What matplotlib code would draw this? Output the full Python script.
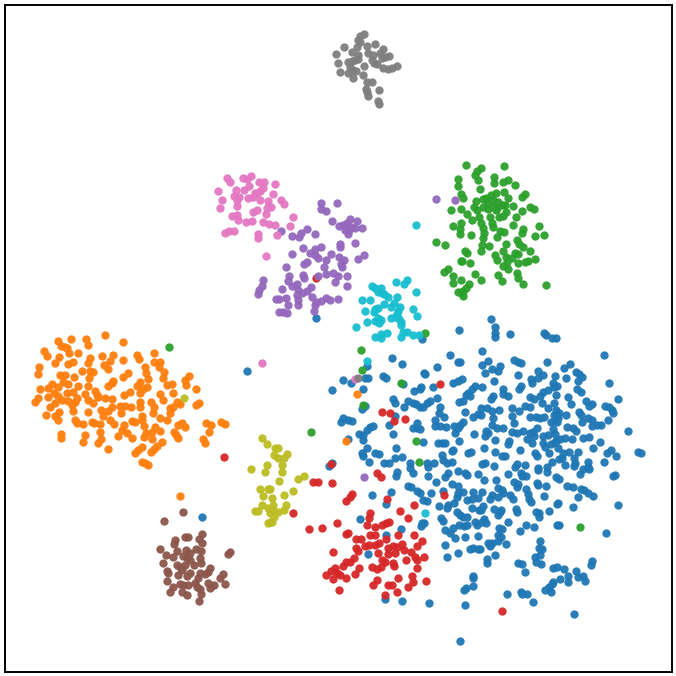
import matplotlib
matplotlib.use("Agg")
import matplotlib.pyplot as plt

ZOOM = 3.0
def crop(points, ox, oy):
    return [(ox + x / ZOOM, oy + y / ZOOM) for x, y in points]

blue_a = [(417,60),(389,136),(415,155),(420,155),(215,143),(246,163),(350,170),(312,190),(316,193),(140,168),(68,209),(93,220),(135,205),(145,205),(190,198),(197,204),(36,240),(129,237),(425,208),(415,212),(400,218),(339,232),(304,232),(300,238),(283,242),(248,222),(465,228),(455,238),(445,248),(437,255),(450,258),(428,272),(418,277),(351,263),(330,272),(322,280),(310,290),(300,292),(287,283),(278,280),(264,272),(251,290),(220,268),(224,280),(361,290),(358,308),(372,320),(436,305),(458,320),(475,312),(127,298),(135,287),(70,325),(63,337),(85,330),(96,333),(226,318),(207,345),(344,330),(344,348),(360,348),(377,350),(291,340),(278,355),(300,357),(290,355),(402,347),(420,345),(428,335),(415,355),(405,370),(219,372),(160,348),(150,352),(140,360),(130,375),(117,372),(128,390),(85,388),(461,372),(310,395),(355,398),(365,400),(375,400),(417,393),(142,413),(125,430),(130,438),(165,430),(177,432),(229,413),(400,420),(395,423),(445,428),(452,425),(366,435),(225,445),(245,442),(193,459),(208,458),(147,455),(370,450),(382,458),(397,457),(270,460),(270,475),(280,490),(322,460),(342,460),(323,470),(35,458),(28,468),(415,483),(435,490),(440,495),(473,493),(385,490),(375,500),(324,497),(232,487),(228,497),(306,88)]
blue_b = [(34,28),(45,50),(44,70),(44,82),(90,72),(192,68),(197,75),(215,85),(227,85),(373,136),(7,124),(103,150),(115,155),(123,160),(200,155),(25,152),(5,165),(59,167),(55,182),(35,178),(15,188),(270,163),(252,175),(288,187),(298,193),(305,200),(293,213),(173,183),(188,195),(175,203),(225,197),(115,195),(154,208),(155,220),(42,213),(258,205),(388,218),(220,220),(232,228),(222,232),(123,228),(118,238),(5,232),(70,238),(70,252),(85,258),(40,258),(33,268),(292,237),(302,247),(205,240),(190,245),(180,258),(227,255),(150,262),(162,267),(265,262),(185,280),(222,280),(415,267),(318,272),(335,282),(328,287),(272,283),(136,288),(150,290),(204,293),(97,295),(117,303),(3,293),(22,295),(35,303),(57,300),(375,287),(388,292),(395,300),(400,310),(298,307),(303,315),(228,300),(238,310),(258,315),(222,315),(232,318),(225,330),(235,325),(212,337),(230,335),(97,318),(150,322),(167,320),(180,325),(192,320),(3,315),(38,325),(102,340),(325,323),(335,330),(305,337),(384,330),(335,348),(350,346),(362,346),(35,345),(50,353),(70,355),(260,352),(278,355),(288,362),(220,357),(225,372),(95,365),(110,370),(128,362),(150,368),(160,365),(172,355),(162,378),(205,375),(190,378),(444,362),(18,362),(15,378),(25,370),(228,392),(240,388),(255,383),(277,388),(310,385),(328,380),(140,387),(155,400),(45,390),(87,393),(85,403),(190,400),(195,410),(212,403),(225,395),(360,397),(339,415),(12,415),(121,420),(44,425),(235,415),(165,430),(170,438),(207,428),(268,427),(250,430),(295,427),(245,445),(380,430),(392,420),(408,438),(473,425),(483,430),(65,438),(75,438),(238,448),(217,457),(283,445),(285,458),(325,455),(372,457),(15,458),(5,462),(43,467),(110,462),(105,470),(134,465),(256,465),(325,470),(175,475),(200,472),(310,478),(283,468),(328,478)]
blue_c = [(347,5),(395,12),(415,18),(265,18),(272,22),(290,33),(300,38),(332,40),(212,35),(156,46),(198,72),(370,33),(415,40),(428,37),(410,50),(403,68),(385,75),(382,85),(356,78),(460,35),(440,60),(455,58),(475,55),(455,85),(478,90),(310,60),(320,62),(412,95),(420,105),(430,110),(440,112),(362,115),(368,124),(119,117),(305,130),(312,128),(303,138),(243,147),(197,165),(375,150),(390,160),(400,145),(418,135),(433,138),(440,135),(465,125),(470,135),(405,173),(434,170),(473,167),(374,195),(413,218),(382,230),(450,208),(460,205),(475,207),(143,223),(459,287),(459,295),(460,317),(433,330),(437,325),(434,375),(196,356),(247,362),(327,370),(420,483)]
blue_d = [(84,13),(122,8),(127,18),(138,17),(175,0),(201,6),(12,30),(47,30),(102,37),(115,43),(110,52),(172,40),(175,45),(198,47),(227,20),(236,28),(300,13),(260,47),(278,52),(304,58),(312,60),(324,70),(338,77),(293,80),(400,18),(405,15),(55,55),(67,60),(68,70),(5,65),(35,75),(30,87),(55,82),(90,75),(100,87),(138,57),(145,72),(148,87),(152,97),(193,78),(233,100),(230,102),(414,104),(279,111),(207,123),(8,107),(3,120),(43,117),(62,120),(55,135),(60,125),(108,118),(110,127),(167,125),(178,128),(178,140),(12,147),(18,158),(5,155),(85,157),(138,165),(162,171),(120,182),(232,165),(237,166),(378,188),(58,175),(65,176),(55,195),(63,202),(55,213),(25,218),(35,218),(30,227),(78,222),(0,237),(44,254),(22,267),(20,280),(179,212),(177,234),(187,238),(180,254),(165,262),(168,275),(183,281),(115,280),(127,282),(136,305),(337,274),(333,284),(219,293),(232,290),(251,296),(289,304),(263,317),(294,320),(309,318),(314,333),(240,327),(264,337),(220,335),(216,342),(207,352),(194,360),(213,367),(80,373),(122,366),(125,373),(140,373),(158,397),(282,431)]
blue_strays = [(202,516.5),(246.5,371),(316.3,317.7)]

orange_main = [(241,30),(294,51),(139,43),(184,41),(100,47),(188,61),(108,62),(120,65),(127,68),(132,85),(160,84),(57,78),(66,94),(103,95),(232,92),(264,89),(337,90),(341,101),(386,85),(293,104),(195,100),(190,113),(255,108),(90,115),(145,110),(130,118),(388,110),(405,110),(402,125),(238,120),(250,132),(41,127),(39,146),(170,137),(195,137),(205,140),(360,125),(362,143),(105,150),(120,150),(148,155),(308,145),(295,155),(192,160),(190,182),(418,142),(415,160),(493,152),(480,165),(265,168),(250,183),(260,175),(370,163),(345,170),(335,183),(365,185),(355,192),(425,180),(440,176),(482,181),(45,191),(82,178),(115,172),(130,178),(158,183),(70,190),(100,185),(513,193),(315,200),(297,210),(345,205),(210,198),(405,208),(415,225),(445,205),(180,207),(215,210),(220,215),(30,232),(40,220),(70,215),(88,205),(100,212),(125,205),(145,200),(155,218),(90,235),(110,225),(130,228),(150,232),(140,240),(240,218),(262,222),(190,225),(205,235),(345,230),(345,245),(378,230),(387,245),(455,230),(465,237),(443,245),(435,250),(522,233),(512,240),(75,245),(145,257),(63,270),(103,262),(90,272),(100,285),(188,262),(228,255),(262,247),(250,258),(285,243),(300,243),(318,247),(287,265),(235,272),(385,265),(435,265),(405,280),(425,285),(150,285),(155,295),(173,297),(200,292),(207,295),(225,298),(255,285),(268,297),(320,287),(330,290),(350,272),(352,285),(357,302),(298,300),(290,315),(307,323),(322,340),(390,305),(405,318),(380,322),(362,325),(358,337),(380,343),(472,295),(480,307),(460,300),(448,320),(452,330),(460,340),(543,293),(557,300),(553,321),(587,292),(600,297),(535,342),(540,355),(107,328),(108,340),(180,330),(175,352),(224,320),(227,342),(218,355),(280,332),(410,350),(397,362),(388,372),(378,382),(352,367),(340,375),(330,385),(249,372),(350,410),(360,415),(370,420)]
orange_strays = [(180,495.7),(357,393.7),(345.7,441)]

green_main = [(139,31),(253,32),(182,40),(172,47),(165,60),(175,75),(115,71),(115,92),(222,67),(222,85),(265,75),(250,80),(285,90),(181,103),(253,110),(124,117),(128,128),(314,118),(307,127),(263,130),(227,115),(212,120),(198,130),(188,132),(168,137),(162,155),(172,165),(190,155),(205,145),(220,135),(235,140),(245,150),(222,155),(232,160),(255,150),(280,153),(205,163),(228,165),(330,157),(343,162),(92,166),(122,162),(142,178),(157,195),(178,185),(210,185),(258,170),(250,182),(237,186),(305,168),(287,187),(215,205),(218,215),(183,205),(188,220),(192,235),(188,248),(279,211),(100,214),(123,205),(121,222),(120,237),(153,240),(240,228),(252,231),(230,245),(308,222),(305,235),(356,212),(372,240),(345,243),(47,261),(75,269),(290,255),(297,267),(258,268),(310,275),(185,270),(207,274),(183,288),(135,287),(142,295),(250,288),(331,288),(285,295),(293,298),(224,300),(230,315),(258,305),(275,310),(260,320),(345,313),(325,317),(315,320),(295,325),(127,318),(122,317),(150,325),(250,333),(265,343),(83,342),(72,350),(166,358),(100,363),(122,374),(182,376),(100,385),(233,360),(245,377),(290,355),(293,370),(310,388),(377,390),(147,387),(138,400),(130,408),(115,412),(125,412),(128,423)]
green_strays = [(361,349.7),(425.3,333.3),(361.7,370.3),(401,383),(363.3,404.7),(416,441.3),(418.7,462),(579.7,527),(168.7,347.3),(311,431.7)]

red_main = [(36,8),(97,43),(90,52),(78,63),(200,57),(373,45),(283,74),(240,92),(263,113),(150,98),(148,115),(142,135),(165,140),(185,135),(197,130),(208,125),(52,128),(5,144),(85,158),(78,163),(150,165),(165,165),(235,165),(283,165),(108,177),(123,178),(135,197),(147,195),(165,195),(178,188),(197,178),(245,192),(305,182),(292,197),(108,205),(113,213),(40,217),(205,205),(220,197),(232,200),(253,210),(272,215),(203,222),(225,218),(174,220),(285,230),(313,230),(259,241),(290,240),(102,233),(90,245),(78,247),(68,258),(185,240),(195,245),(218,248),(222,258),(155,260),(170,268),(183,262),(117,265),(290,263),(45,265),(33,272),(18,284),(50,280),(60,285),(40,297),(78,293),(105,282),(277,288),(235,295),(172,300),(278,307),(265,320),(318,302),(160,315),(205,315),(217,316),(230,337),(196,344),(58,330)]
red_upper = [(360,221),(185,307),(210,309),(223,333),(254,328),(172,488),(183,500)]
red_strays = [(224,456.7),(293,512.7),(309,529),(313,481.7),(318,482),(331,464),(502,611),(316,278)]

purple_main = [(347,115),(395,115),(347,133),(363,139),(380,168),(401,183),(415,180),(434,163),(455,168),(425,175),(437,185),(450,190),(472,188),(428,207),(420,195),(433,195),(228,197),(307,192),(287,203),(283,215),(262,213),(331,208),(404,238),(404,245),(450,235),(295,248),(348,247),(330,253),(315,265),(330,270),(340,280),(260,267),(378,267),(478,270),(458,282),(403,275),(418,285),(408,297),(410,307),(363,285),(357,305),(305,292),(297,297),(244,305),(295,330),(297,338),(338,332),(363,327),(385,325),(398,333),(390,352),(426,333),(425,364),(252,333),(250,347),(262,362),(275,358),(175,346),(170,362),(163,375),(158,388),(232,373),(280,375),(275,390),(290,385),(305,378),(318,365),(322,395),(212,401),(222,401),(243,400),(248,420),(278,420),(280,405),(332,410),(348,408),(362,400),(374,406),(399,401),(330,420),(328,437),(222,441),(235,441),(246,444)]
purple_strays = [(436,199.3),(455.3,200),(364.3,476.7)]

brown_main = [(114,246),(57,274),(172,313),(120,320),(128,322),(162,328),(90,330),(87,341),(172,339),(45,356),(153,358),(167,362),(95,362),(122,360),(135,368),(255,365),(250,372),(62,375),(85,380),(115,378),(125,385),(165,385),(135,390),(53,398),(168,400),(148,405),(120,405),(97,405),(105,412),(110,420),(195,413),(67,423),(70,430),(100,435),(135,430),(125,437),(165,428),(180,432),(190,425),(235,432),(225,445),(160,445),(67,453),(150,460),(190,458),(85,472),(105,462),(115,465),(130,465),(155,472),(165,478),(195,475),(208,465),(240,463),(75,487),(110,485),(125,495),(168,492),(161,512)]

pink_main = [(65,40),(75,50),(115,40),(138,33),(125,42),(162,52),(177,50),(210,58),(133,62),(38,77),(92,75),(118,75),(175,68),(165,78),(150,85),(88,92),(102,95),(130,100),(145,95),(155,85),(205,87),(228,105),(237,118),(50,105),(95,105),(95,124),(165,105),(190,107),(197,125),(44,129),(185,128),(155,135),(143,140),(183,148),(81,152),(95,150),(98,165),(263,157),(124,172),(142,167),(175,172),(192,178),(210,180),(255,182),(215,209),(61,205),(72,197),(87,199),(160,208),(160,218),(184,272)]
pink_strays = [(262,363),(355,379)]

gray_main = [(118,27),(105,32),(100,45),(105,52),(95,65),(125,62),(150,58),(57,67),(80,80),(32,87),(130,85),(145,90),(100,90),(165,85),(175,72),(180,97),(192,93),(170,100),(38,115),(68,112),(80,108),(90,105),(100,103),(140,105),(148,115),(155,118),(215,122),(200,130),(188,132),(175,130),(118,122),(75,125),(85,135),(93,138),(45,142),(70,145),(85,158),(115,150),(125,170),(140,172),(122,193),(130,212),(127,200),(161,194),(158,228),(163,238)]
gray_strays = [(357.7,377.7)]

olive_main = [(352,23),(367,43),(390,55),(400,55),(427,71),(388,75),(400,85),(417,85),(412,105),(410,125),(367,106),(361,125),(317,116),(403,152),(460,147),(478,138),(346,176),(370,176),(375,176),(444,183),(355,197),(418,194),(382,205),(423,225),(350,225),(385,225),(370,235),(385,240),(400,245),(418,240),(330,243),(340,243),(375,250),(375,275),(382,277),(368,278),(388,260)]
olive_strays = [(184,398)]

cyan_main = [(168,35),(200,30),(192,42),(229,66),(97,47),(105,55),(123,53),(115,65),(125,68),(133,72),(145,80),(172,82),(65,90),(90,90),(162,100),(133,103),(152,112),(180,112),(115,115),(105,118),(102,125),(76,122),(175,122),(170,132),(219,118),(232,139),(153,143),(178,148),(182,155),(183,165),(81,157),(105,152),(115,145),(122,150),(118,160),(48,172),(190,185),(200,185),(142,188),(122,192),(122,203),(105,200),(183,202),(220,196),(238,195),(165,140)]
cyan_strays = [(416,225),(425.3,513.3),(367,361)]

classes = [
    ("tab:blue", crop(blue_a,320,310)+crop(blue_b,480,310)+crop(blue_c,320,480)+crop(blue_d,480,470)+blue_strays),
    ("tab:orange", crop(orange_main,25,325)+orange_strays),
    ("tab:green", crop(green_main,420,155)+green_strays),
    ("tab:red", crop(red_main,320,480)+crop(red_upper,320,310)+red_strays),
    ("tab:purple", crop(purple_main,205,165)+purple_strays),
    ("tab:brown", crop(brown_main,145,430)),
    ("tab:pink", crop(pink_main,205,165)+pink_strays),
    ("tab:gray", crop(gray_main,325,25)+gray_strays),
    ("tab:olive", crop(olive_main,145,430)+olive_strays),
    ("tab:cyan", crop(cyan_main,340,270)+cyan_strays),
]

fig = plt.figure(figsize=(6.76, 6.76), dpi=100)
ax = fig.add_axes([4.5/676, 4.5/676, 667/676, 667/676])
for color, pts in classes:
    ax.scatter([p[0] for p in pts], [p[1] for p in pts], s=36, c=color, alpha=0.95, linewidths=0)
ax.set_xlim(4.5, 671.5)
ax.set_ylim(671.5, 4.5)
ax.set_xticks([])
ax.set_yticks([])
for s in ax.spines.values():
    s.set_linewidth(1.4)
fig.savefig("out.png", dpi=100)
